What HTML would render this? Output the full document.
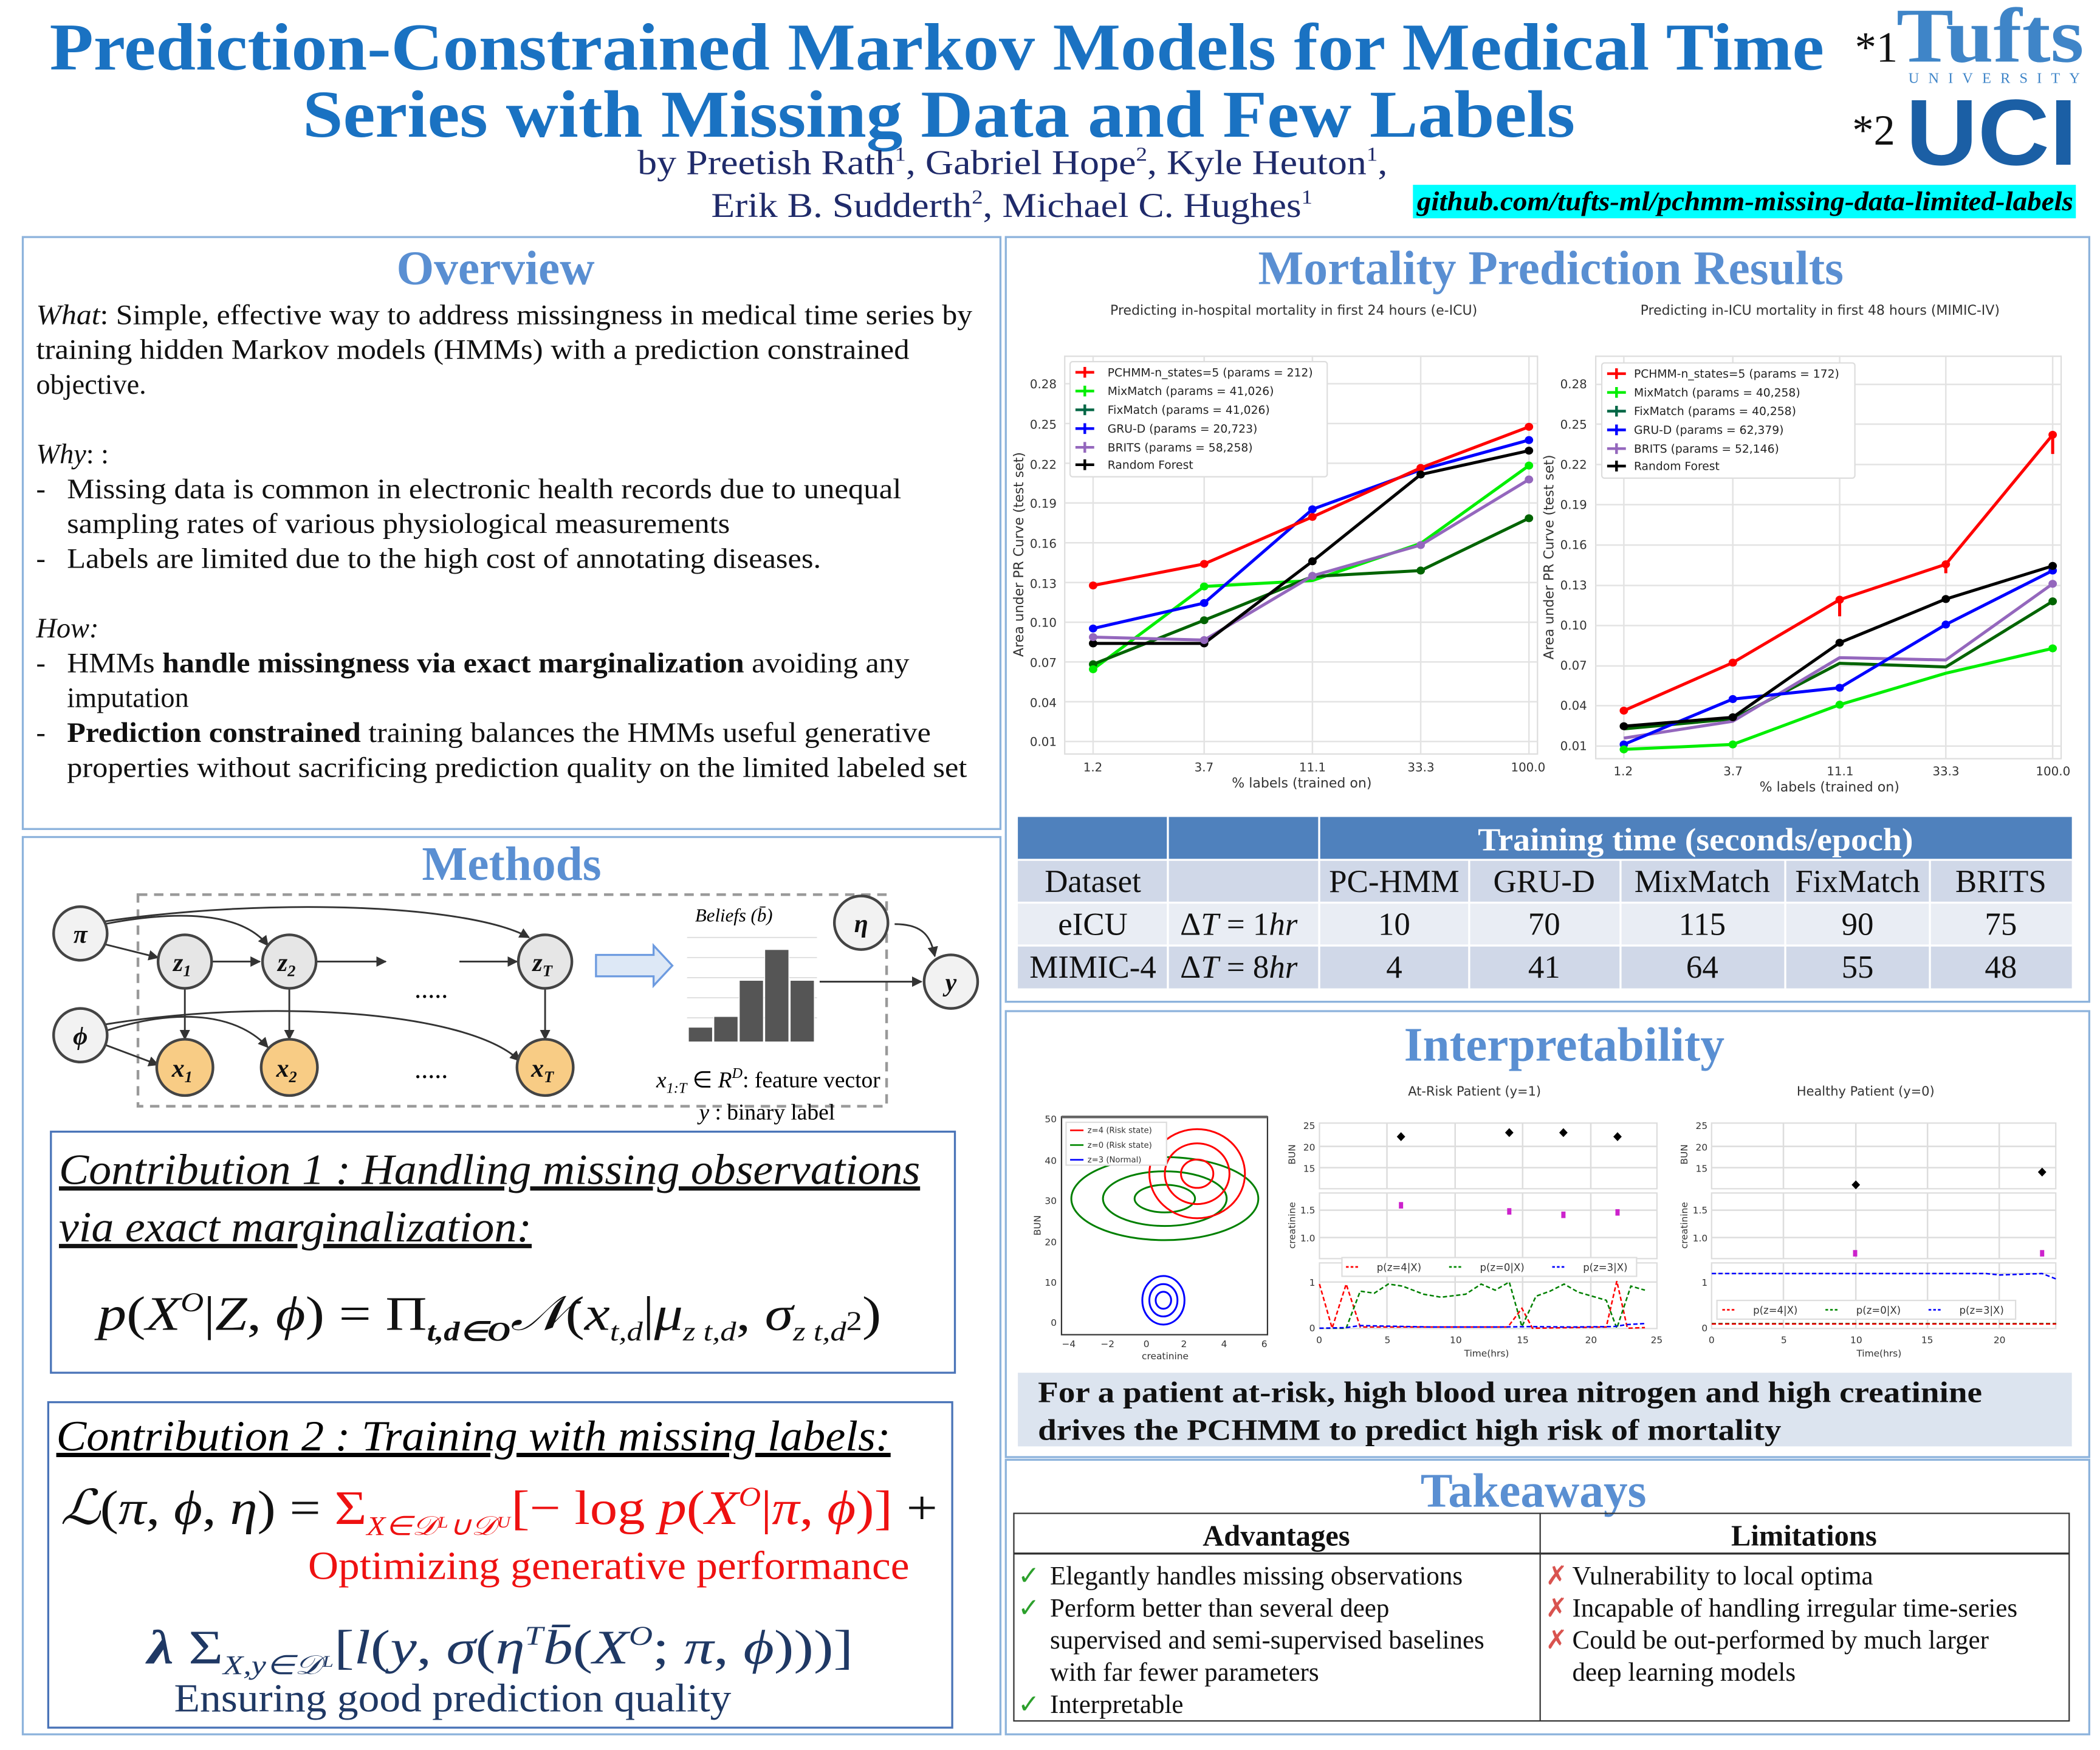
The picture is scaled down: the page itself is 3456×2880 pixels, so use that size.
<!DOCTYPE html>
<html><head><meta charset="utf-8"><style>
html,body{margin:0;padding:0;background:#fff;}
svg{display:block}
.serif{font-family:"Liberation Serif",serif}
.sans{font-family:"DejaVu Sans","Liberation Sans",sans-serif}
</style></head><body>
<svg xmlns="http://www.w3.org/2000/svg" width="3456" height="2880" viewBox="0 0 1568 1306.7">
<defs>
<marker id="ar" viewBox="0 0 10 10" refX="9" refY="5" markerWidth="6" markerHeight="6" orient="auto"><path d="M0,0 L10,5 L0,10 z" fill="#333"/></marker>
</defs>
<rect width="1568" height="1307" fill="#fff"/>
<!-- Header -->
<g class="serif" font-weight="bold" fill="#1a72c2" font-size="50">
<text x="37" y="52" textLength="1325" lengthAdjust="spacingAndGlyphs">Prediction-Constrained Markov Models for Medical Time</text>
<text x="226" y="102" textLength="950" lengthAdjust="spacingAndGlyphs">Series with Missing Data and Few Labels</text>
</g>
<g class="serif" fill="#1f2a6a" font-size="26">
<text x="476" y="130" textLength="560" lengthAdjust="spacingAndGlyphs">by Preetish Rath<tspan font-size="15" dy="-10">1</tspan><tspan dy="10">, Gabriel Hope</tspan><tspan font-size="15" dy="-10">2</tspan><tspan dy="10">, Kyle Heuton</tspan><tspan font-size="15" dy="-10">1</tspan><tspan dy="10">,</tspan></text>
<text x="531" y="162" textLength="449" lengthAdjust="spacingAndGlyphs">Erik B. Sudderth<tspan font-size="15" dy="-10">2</tspan><tspan dy="10">, Michael C. Hughes</tspan><tspan font-size="15" dy="-10">1</tspan></text>
</g>
<text x="1385" y="46" class="serif" font-size="32" fill="#111">*1</text>
<text x="1416" y="46" font-family="Liberation Serif,serif" font-weight="bold" font-size="58" fill="#3f85c8" textLength="140" lengthAdjust="spacingAndGlyphs">Tufts</text>
<text x="1425" y="62" class="serif" font-size="11" fill="#3f85c8" textLength="128" lengthAdjust="spacing">UNIVERSITY</text>
<text x="1383" y="108" class="serif" font-size="32" fill="#111">*2</text>
<text x="1423" y="123" font-family="Liberation Sans,sans-serif" font-weight="bold" font-size="70" fill="#1b5fa5" textLength="128" lengthAdjust="spacingAndGlyphs">UCI</text>
<rect x="1055" y="138" width="495" height="25" fill="#00ffff"/>
<text x="1058" y="157" class="serif" font-weight="bold" font-style="italic" font-size="20" fill="#000" textLength="490" lengthAdjust="spacingAndGlyphs">github.com/tufts-ml/pchmm-missing-data-limited-labels</text>

<!-- Panels -->
<g fill="none" stroke="#8db3dc" stroke-width="1.5">
<rect x="17" y="177" width="730" height="442"/>
<rect x="17" y="625" width="730" height="670"/>
<rect x="751" y="177" width="809" height="571"/>
<rect x="751" y="755" width="809" height="333"/>
<rect x="751" y="1090" width="809" height="205"/>
</g>
<g class="serif" font-weight="bold" fill="#5a8fd2" font-size="36" text-anchor="middle">
<text x="370" y="212">Overview</text>
<text x="382" y="657">Methods</text>
<text x="1158" y="212">Mortality Prediction Results</text>
<text x="1168" y="792">Interpretability</text>
<text x="1145" y="1125">Takeaways</text>
</g>

<!-- Overview text -->
<g class="serif" font-size="21" fill="#111">
<text x="27" y="242" textLength="699" lengthAdjust="spacingAndGlyphs"><tspan font-style="italic">What</tspan>: Simple, effective way to address missingness in medical time series by</text>
<text x="27" y="268" textLength="652" lengthAdjust="spacingAndGlyphs">training hidden Markov models (HMMs) with a prediction constrained</text>
<text x="27" y="294">objective.</text>
<text x="27" y="346"><tspan font-style="italic">Why</tspan>: :</text>
<text x="27" y="372">-</text><text x="50" y="372" textLength="623" lengthAdjust="spacingAndGlyphs">Missing data is common in electronic health records due to unequal</text>
<text x="50" y="398" textLength="495" lengthAdjust="spacingAndGlyphs">sampling rates of various physiological measurements</text>
<text x="27" y="424">-</text><text x="50" y="424" textLength="563" lengthAdjust="spacingAndGlyphs">Labels are limited due to the high cost of annotating diseases.</text>
<text x="27" y="476" font-style="italic">How:</text>
<text x="27" y="502">-</text><text x="50" y="502" textLength="629" lengthAdjust="spacingAndGlyphs">HMMs <tspan font-weight="bold">handle missingness via exact marginalization</tspan> avoiding any</text>
<text x="50" y="528">imputation</text>
<text x="27" y="554">-</text><text x="50" y="554" textLength="645" lengthAdjust="spacingAndGlyphs"><tspan font-weight="bold">Prediction constrained</tspan> training balances the HMMs useful generative</text>
<text x="50" y="580" textLength="672" lengthAdjust="spacingAndGlyphs">properties without sacrificing prediction quality on the limited labeled set</text>
</g>

<!-- Methods diagram -->
<rect x="103" y="668" width="559" height="158" fill="none" stroke="#999" stroke-width="2" stroke-dasharray="7,5"/>
<g stroke="#333" stroke-width="1.3" fill="none" marker-end="url(#ar)">
<path d="M78,690 C130,680 180,680 200,706"/>
<path d="M78,688 C200,670 350,675 395,700"/>
<path d="M78,705 L118,715"/>
<path d="M158,718 L194,718"/>
<path d="M236,718 L288,718"/>
<path d="M343,718 L386,718"/>
<path d="M138,738 L138,776"/>
<path d="M216,738 L216,776"/>
<path d="M407,738 L407,776"/>
<path d="M78,780 L118,795"/>
<path d="M78,770 C140,750 180,760 200,782"/>
<path d="M78,765 C200,745 350,755 388,792"/>
<path d="M668,690 C690,690 695,700 698,714"/>
<path d="M612,733 L688,733"/>
</g>
<g stroke="#444" stroke-width="2">
<circle cx="60" cy="697" r="20" fill="#f2f2f2"/>
<circle cx="60" cy="773" r="20" fill="#f2f2f2"/>
<circle cx="138" cy="718" r="20" fill="#e6e6e6"/>
<circle cx="216" cy="718" r="20" fill="#e6e6e6"/>
<circle cx="407" cy="718" r="20" fill="#e6e6e6"/>
<circle cx="138" cy="797" r="21" fill="#f8cc85"/>
<circle cx="216" cy="797" r="21" fill="#f8cc85"/>
<circle cx="407" cy="797" r="21" fill="#f8cc85"/>
<circle cx="643" cy="689" r="20" fill="#f2f2f2"/>
<circle cx="710" cy="733" r="20" fill="#f2f2f2"/>
</g>
<g class="serif" font-style="italic" font-weight="bold" font-size="19" text-anchor="middle" fill="#111">
<text x="60" y="704">π</text><text x="60" y="780">ϕ</text>
<text x="136" y="725">z<tspan font-size="12" dy="4">1</tspan></text>
<text x="214" y="725">z<tspan font-size="12" dy="4">2</tspan></text>
<text x="405" y="725">z<tspan font-size="12" dy="4">T</tspan></text>
<text x="136" y="804">x<tspan font-size="12" dy="4">1</tspan></text>
<text x="214" y="804">x<tspan font-size="12" dy="4">2</tspan></text>
<text x="405" y="804">x<tspan font-size="12" dy="4">T</tspan></text>
<text x="643" y="696">η</text><text x="710" y="740">y</text>
</g>
<text x="322" y="745" class="serif" font-size="20" text-anchor="middle">.....</text>
<text x="322" y="805" class="serif" font-size="20" text-anchor="middle">.....</text>
<path d="M445,713 L488,713 L488,706 L502,721 L488,736 L488,729 L445,729 z" fill="#dde8f6" stroke="#6d9be0" stroke-width="1.5"/>
<g stroke="#ddd" stroke-width="0.8"><line x1="513" y1="700" x2="610" y2="700"/><line x1="513" y1="715" x2="610" y2="715"/><line x1="513" y1="730" x2="610" y2="730"/><line x1="513" y1="745" x2="610" y2="745"/><line x1="513" y1="760" x2="610" y2="760"/></g>
<g fill="#555" stroke="#fff" stroke-width="0.6">
<rect x="514" y="767" width="18" height="11"/><rect x="533" y="759" width="18" height="19"/><rect x="552" y="732" width="18" height="46"/><rect x="571" y="709" width="18" height="69"/><rect x="590" y="732" width="18" height="46"/>
</g>
<text x="519" y="688" class="serif" font-style="italic" font-size="14">Beliefs (b̄)</text>
<text x="490" y="812" class="serif" font-size="17"><tspan font-style="italic">x</tspan><tspan font-size="11" dy="4" font-style="italic">1:T</tspan><tspan dy="-4"> ∈ </tspan><tspan font-style="italic">R</tspan><tspan font-size="11" dy="-7" font-style="italic">D</tspan><tspan dy="7">: feature vector</tspan></text>
<text x="522" y="836" class="serif" font-size="17"><tspan font-style="italic">y</tspan> : binary label</text>

<!-- Contribution 1 -->
<rect x="38" y="845" width="675" height="180" fill="none" stroke="#4a74b8" stroke-width="1.5"/>
<g class="serif" font-style="italic" font-size="32" fill="#111">
<text x="44" y="884" text-decoration="underline" textLength="643" lengthAdjust="spacingAndGlyphs">Contribution 1 : Handling missing observations</text>
<text x="44" y="927" text-decoration="underline" textLength="353" lengthAdjust="spacingAndGlyphs">via exact marginalization:</text>
</g>
<text x="73" y="993" class="serif" font-size="36" fill="#111" textLength="585" lengthAdjust="spacingAndGlyphs"><tspan font-style="italic">p</tspan>(<tspan font-style="italic">X</tspan><tspan font-size="20" dy="-14" font-style="italic">O</tspan><tspan dy="14">|</tspan><tspan font-style="italic">Z</tspan>, <tspan font-style="italic">ϕ</tspan>) = Π<tspan font-size="20" dy="8" font-weight="bold" font-style="italic">t,d∈O</tspan><tspan dy="-8" font-style="italic">𝒩</tspan>(<tspan font-style="italic">x</tspan><tspan font-size="20" dy="8" font-style="italic">t,d</tspan><tspan dy="-8">|</tspan><tspan font-style="italic">μ</tspan><tspan font-size="20" dy="8" font-style="italic">z t,d</tspan><tspan dy="-8">, </tspan><tspan font-style="italic">σ</tspan><tspan font-size="20" dy="8" font-style="italic">z t,d</tspan><tspan dy="-8" font-size="20">2</tspan><tspan>)</tspan></text>

<!-- Contribution 2 -->
<rect x="36" y="1047" width="675" height="243" fill="none" stroke="#4a74b8" stroke-width="1.5"/>
<text x="42" y="1083" class="serif" font-style="italic" font-size="32" text-decoration="underline" textLength="623" lengthAdjust="spacingAndGlyphs">Contribution 2 : Training with missing labels:</text>
<text x="45" y="1138" class="serif" font-size="36" fill="#111" textLength="655" lengthAdjust="spacingAndGlyphs"><tspan font-style="italic">ℒ</tspan>(<tspan font-style="italic">π</tspan>, <tspan font-style="italic">ϕ</tspan>, <tspan font-style="italic">η</tspan>) = <tspan fill="#ee1111">Σ<tspan font-size="20" dy="8" font-style="italic">X∈𝒟ᴸ∪𝒟ᵁ</tspan><tspan dy="-8">[− log </tspan><tspan font-style="italic">p</tspan>(<tspan font-style="italic">X</tspan><tspan font-size="20" dy="-14" font-style="italic">O</tspan><tspan dy="14">|</tspan><tspan font-style="italic">π</tspan>, <tspan font-style="italic">ϕ</tspan>)]</tspan> +</text>
<text x="230" y="1179" class="serif" font-size="30" fill="#ee1111" textLength="449" lengthAdjust="spacingAndGlyphs">Optimizing generative performance</text>
<text x="110" y="1242" class="serif" font-size="36" fill="#1f3864" textLength="527" lengthAdjust="spacingAndGlyphs"><tspan font-weight="bold" font-style="italic">λ</tspan> Σ<tspan font-size="20" dy="8" font-style="italic">X,y∈𝒟ᴸ</tspan><tspan dy="-8">[</tspan><tspan font-style="italic">l</tspan>(<tspan font-style="italic">y</tspan>, <tspan font-style="italic">σ</tspan>(<tspan font-style="italic">η</tspan><tspan font-size="20" dy="-14" font-style="italic">T</tspan><tspan dy="14" font-style="italic">b̄</tspan>(<tspan font-style="italic">X</tspan><tspan font-size="20" dy="-14" font-style="italic">O</tspan><tspan dy="14">; </tspan><tspan font-style="italic">π</tspan>, <tspan font-style="italic">ϕ</tspan>)))]</text>
<text x="130" y="1278" class="serif" font-size="30" fill="#1f3864" textLength="416" lengthAdjust="spacingAndGlyphs">Ensuring good prediction quality</text>

<!-- Mortality charts -->
<g class="sans" font-size="10" fill="#333" text-anchor="middle">
<text x="966" y="235">Predicting in-hospital mortality in first 24 hours (e-ICU)</text>
<text x="1359" y="235">Predicting in-ICU mortality in first 48 hours (MIMIC-IV)</text>
</g>
<rect x="795" y="266" width="353" height="297" fill="#fff" stroke="#ddd"/>
<rect x="1191.5" y="266" width="347.5" height="300.5" fill="#fff" stroke="#ddd"/>
<g transform="translate(753.2 217.8) scale(0.5249 0.2473)" fill="none">
<g stroke="#e3e3e3">
<path vector-effect="non-scaling-stroke" stroke-width="2.5" d="M80,278H752M80,398H752M80,518H752M80,638H752M80,758H752M80,878H752M80,998H752M80,1118H752M80,1238H752M80,1358H752M120,195V1395M278,195V1395M432,195V1395M586,195V1395M740,195V1395"/>
<path vector-effect="non-scaling-stroke" stroke-width="2.5" d="M835,280H1497M835,400H1497M835,522H1497M835,643H1497M835,765H1497M835,887H1497M835,1008H1497M835,1130H1497M835,1250H1497M835,1372H1497M875,195V1410M1030,195V1410M1182,195V1410M1333,195V1410M1485,195V1410"/>
</g>
<g stroke-width="5" stroke-linejoin="round">
<polyline vector-effect="non-scaling-stroke" stroke="#00ee00" points="120,1140 278,890 432,872 586,760 740,525"/>
<polyline vector-effect="non-scaling-stroke" stroke="#006400" points="120,1125 278,992 432,860 586,842 740,684"/>
<polyline vector-effect="non-scaling-stroke" stroke="#9467bd" points="120,1043 278,1052 432,858 586,765 740,567"/>
<polyline vector-effect="non-scaling-stroke" stroke="#000" points="120,1062 278,1062 432,814 586,552 740,480"/>
<polyline vector-effect="non-scaling-stroke" stroke="#0000ff" points="120,1017 278,940 432,657 586,538 740,448"/>
<polyline vector-effect="non-scaling-stroke" stroke="#ff0000" points="120,887 278,822 432,680 586,532 740,408"/>
<polyline vector-effect="non-scaling-stroke" stroke="#00ee00" points="875,1382 1030,1367 1182,1247 1333,1152 1485,1077"/>
<polyline vector-effect="non-scaling-stroke" stroke="#006400" points="875,1320 1030,1290 1182,1122 1333,1133 1485,935"/>
<polyline vector-effect="non-scaling-stroke" stroke="#9467bd" points="875,1348 1030,1297 1182,1105 1333,1112 1485,882"/>
<polyline vector-effect="non-scaling-stroke" stroke="#0000ff" points="875,1367 1030,1230 1182,1196 1333,1005 1485,842"/>
<polyline vector-effect="non-scaling-stroke" stroke="#000" points="875,1312 1030,1285 1182,1060 1333,928 1485,828"/>
<polyline vector-effect="non-scaling-stroke" stroke="#ff0000" points="875,1265 1030,1120 1182,930 1333,823 1485,432"/>
<path vector-effect="non-scaling-stroke" stroke="#ff0000" d="M1485,432V490M1182,930V980M1333,823V850"/>
</g>
<g stroke="none">
<g fill="#ff0000"><ellipse cx="120" cy="887" rx="6" ry="12"/><ellipse cx="278" cy="822" rx="6" ry="12"/><ellipse cx="432" cy="680" rx="6" ry="12"/><ellipse cx="586" cy="532" rx="6" ry="12"/><ellipse cx="740" cy="408" rx="6" ry="12"/><ellipse cx="875" cy="1265" rx="6" ry="12"/><ellipse cx="1030" cy="1120" rx="6" ry="12"/><ellipse cx="1182" cy="930" rx="6" ry="12"/><ellipse cx="1333" cy="823" rx="6" ry="12"/><ellipse cx="1485" cy="432" rx="6" ry="12"/></g>
<g fill="#0000ff"><ellipse cx="120" cy="1017" rx="6" ry="12"/><ellipse cx="278" cy="940" rx="6" ry="12"/><ellipse cx="432" cy="657" rx="6" ry="12"/><ellipse cx="740" cy="448" rx="6" ry="12"/><ellipse cx="875" cy="1367" rx="6" ry="12"/><ellipse cx="1030" cy="1230" rx="6" ry="12"/><ellipse cx="1182" cy="1196" rx="6" ry="12"/><ellipse cx="1333" cy="1005" rx="6" ry="12"/><ellipse cx="1485" cy="842" rx="6" ry="12"/></g>
<g fill="#000"><ellipse cx="120" cy="1062" rx="6" ry="12"/><ellipse cx="278" cy="1062" rx="6" ry="12"/><ellipse cx="432" cy="814" rx="6" ry="12"/><ellipse cx="586" cy="552" rx="6" ry="12"/><ellipse cx="740" cy="480" rx="6" ry="12"/><ellipse cx="875" cy="1312" rx="6" ry="12"/><ellipse cx="1030" cy="1285" rx="6" ry="12"/><ellipse cx="1182" cy="1060" rx="6" ry="12"/><ellipse cx="1333" cy="928" rx="6" ry="12"/><ellipse cx="1485" cy="828" rx="6" ry="12"/></g>
<g fill="#006400"><ellipse cx="120" cy="1125" rx="6" ry="12"/><ellipse cx="278" cy="992" rx="6" ry="12"/><ellipse cx="586" cy="842" rx="6" ry="12"/><ellipse cx="740" cy="684" rx="6" ry="12"/><ellipse cx="1485" cy="935" rx="6" ry="12"/></g>
<g fill="#9467bd"><ellipse cx="120" cy="1043" rx="6" ry="12"/><ellipse cx="278" cy="1052" rx="6" ry="12"/><ellipse cx="432" cy="858" rx="6" ry="12"/><ellipse cx="586" cy="765" rx="6" ry="12"/><ellipse cx="740" cy="567" rx="6" ry="12"/><ellipse cx="1485" cy="882" rx="6" ry="12"/></g>
<g fill="#00ee00"><ellipse cx="120" cy="1140" rx="6" ry="12"/><ellipse cx="278" cy="890" rx="6" ry="12"/><ellipse cx="740" cy="525" rx="6" ry="12"/><ellipse cx="875" cy="1382" rx="6" ry="12"/><ellipse cx="1030" cy="1367" rx="6" ry="12"/><ellipse cx="1182" cy="1247" rx="6" ry="12"/><ellipse cx="1485" cy="1077" rx="6" ry="12"/></g>
</g>
</g>
<!-- tick labels -->
<g class="sans" font-size="9" fill="#333" text-anchor="end">
<text x="789" y="290">0.28</text><text x="789" y="320">0.25</text><text x="789" y="350">0.22</text><text x="789" y="379">0.19</text><text x="789" y="409">0.16</text><text x="789" y="439">0.13</text><text x="789" y="468">0.10</text><text x="789" y="498">0.07</text><text x="789" y="528">0.04</text><text x="789" y="557">0.01</text>
<text x="1185" y="290">0.28</text><text x="1185" y="320">0.25</text><text x="1185" y="350">0.22</text><text x="1185" y="380">0.19</text><text x="1185" y="410">0.16</text><text x="1185" y="440">0.13</text><text x="1185" y="470">0.10</text><text x="1185" y="500">0.07</text><text x="1185" y="530">0.04</text><text x="1185" y="560">0.01</text>
</g>
<g class="sans" font-size="9" fill="#333" text-anchor="middle">
<text x="816" y="576">1.2</text><text x="899" y="576">3.7</text><text x="980" y="576">11.1</text><text x="1061" y="576">33.3</text><text x="1141" y="576">100.0</text>
<text x="1212" y="579">1.2</text><text x="1294" y="579">3.7</text><text x="1374" y="579">11.1</text><text x="1453" y="579">33.3</text><text x="1533" y="579">100.0</text>
<text x="972" y="588" font-size="10">% labels (trained on)</text>
<text x="1366" y="591" font-size="10">% labels (trained on)</text>
<text transform="translate(764 414) rotate(-90)" font-size="10">Area under PR Curve (test set)</text>
<text transform="translate(1160 416) rotate(-90)" font-size="10">Area under PR Curve (test set)</text>
</g>
<rect x="799" y="270" width="192" height="86" fill="#fff" stroke="#ddd" rx="2"/>
<rect x="1196" y="271" width="189" height="86" fill="#fff" stroke="#ddd" rx="2"/>
<g stroke-width="2">
<path d="M803,278h14M810,274v8" stroke="#f00"/><path d="M803,292h14M810,288v8" stroke="#0e0"/><path d="M803,306h14M810,302v8" stroke="#064"/><path d="M803,320h14M810,316v8" stroke="#00f"/><path d="M803,334h14M810,330v8" stroke="#9467bd"/><path d="M803,347h14M810,343v8" stroke="#000"/>
<path d="M1200,279h14M1207,275v8" stroke="#f00"/><path d="M1200,293h14M1207,289v8" stroke="#0e0"/><path d="M1200,307h14M1207,303v8" stroke="#064"/><path d="M1200,321h14M1207,317v8" stroke="#00f"/><path d="M1200,335h14M1207,331v8" stroke="#9467bd"/><path d="M1200,348h14M1207,344v8" stroke="#000"/>
</g>
<g class="sans" font-size="8.5" fill="#222">
<text x="827" y="281">PCHMM-n_states=5 (params = 212)</text><text x="827" y="295">MixMatch (params = 41,026)</text><text x="827" y="309">FixMatch (params = 41,026)</text><text x="827" y="323">GRU-D (params = 20,723)</text><text x="827" y="337">BRITS (params = 58,258)</text><text x="827" y="350">Random Forest</text>
<text x="1220" y="282">PCHMM-n_states=5 (params = 172)</text><text x="1220" y="296">MixMatch (params = 40,258)</text><text x="1220" y="310">FixMatch (params = 40,258)</text><text x="1220" y="324">GRU-D (params = 62,379)</text><text x="1220" y="338">BRITS (params = 52,146)</text><text x="1220" y="351">Random Forest</text>
</g>

<!-- Training time table -->
<rect x="760" y="610" width="787" height="32" fill="#4f81bd"/>
<rect x="760" y="642" width="787" height="32" fill="#d0d8e8"/>
<rect x="760" y="674" width="787" height="32" fill="#e9edf4"/>
<rect x="760" y="706" width="787" height="32" fill="#d0d8e8"/>
<g stroke="#fff" stroke-width="1.5">
<path d="M760,642H1547M760,674H1547M760,706H1547M872,610V738M985,610V738M1097,642V738M1210,642V738M1333,642V738M1441,642V738"/>
</g>
<g class="serif" font-size="24" fill="#111" text-anchor="middle">
<text x="1266" y="635" fill="#fff" font-weight="bold" textLength="325" lengthAdjust="spacingAndGlyphs">Training time (seconds/epoch)</text>
<text x="816" y="666">Dataset</text><text x="1041" y="666">PC-HMM</text><text x="1153" y="666">GRU-D</text><text x="1271" y="666">MixMatch</text><text x="1387" y="666">FixMatch</text><text x="1494" y="666">BRITS</text>
<text x="816" y="698">eICU</text><text x="925" y="698">Δ<tspan font-style="italic">T</tspan> = 1<tspan font-style="italic">hr</tspan></text><text x="1041" y="698">10</text><text x="1153" y="698">70</text><text x="1271" y="698">115</text><text x="1387" y="698">90</text><text x="1494" y="698">75</text>
<text x="816" y="730">MIMIC-4</text><text x="925" y="730">Δ<tspan font-style="italic">T</tspan> = 8<tspan font-style="italic">hr</tspan></text><text x="1041" y="730">4</text><text x="1153" y="730">41</text><text x="1271" y="730">64</text><text x="1387" y="730">55</text><text x="1494" y="730">48</text>
</g>

<!-- Interpretability -->
<g class="sans" font-size="9.5" fill="#333" text-anchor="middle">
<text x="1101" y="818">At-Risk Patient (y=1)</text>
<text x="1393" y="818">Healthy Patient (y=0)</text>
</g>
<rect x="792.6" y="834" width="153.8" height="162.6" fill="#fff" stroke="#333" stroke-width="1"/>
<line x1="792.6" y1="834" x2="946.4" y2="834" stroke="#666" stroke-width="2"/>
<rect x="985.2" y="838.6" width="252" height="49" fill="#fff" stroke="#ddd"/>
<rect x="985.2" y="890.8" width="252" height="49" fill="#fff" stroke="#ddd"/>
<rect x="985.2" y="943" width="252" height="49" fill="#fff" stroke="#ddd"/>
<rect x="1278" y="838.6" width="257" height="49" fill="#fff" stroke="#ddd"/>
<rect x="1278" y="890.8" width="257" height="49" fill="#fff" stroke="#ddd"/>
<rect x="1278" y="943" width="257" height="49" fill="#fff" stroke="#ddd"/>
<g transform="translate(753.2 807.6) scale(0.5249 0.1512)" fill="none">
<path vector-effect="non-scaling-stroke" stroke="#ddd" stroke-width="2.5" d="M442,320H922M442,425H922M538,205V530M635,205V530M731,205V530M828,205V530M442,635H922M442,770H922M538,550V875M635,550V875M731,550V875M828,550V875M442,990H922M538,895V1220M635,895V1220M731,895V1220M828,895V1220M1000,320H1490M1000,425H1490M1102,205V530M1205,205V530M1307,205V530M1409,205V530M1000,635H1490M1000,770H1490M1102,550V875M1205,550V875M1307,550V875M1409,550V875M1000,948H1490M1102,895V1220M1205,895V1220M1307,895V1220M1409,895V1220"/>
<g stroke-width="3">
<ellipse vector-effect="non-scaling-stroke" stroke="#0000ff" cx="220" cy="1080" rx="30" ry="120"/>
<ellipse vector-effect="non-scaling-stroke" stroke="#0000ff" cx="220" cy="1080" rx="20" ry="80"/>
<ellipse vector-effect="non-scaling-stroke" stroke="#0000ff" cx="220" cy="1080" rx="11" ry="42"/>
<ellipse vector-effect="non-scaling-stroke" stroke="#008000" cx="222" cy="578" rx="133" ry="205"/>
<ellipse vector-effect="non-scaling-stroke" stroke="#008000" cx="222" cy="578" rx="88" ry="135"/>
<ellipse vector-effect="non-scaling-stroke" stroke="#008000" cx="222" cy="578" rx="43" ry="68"/>
<ellipse vector-effect="non-scaling-stroke" stroke="#ff0000" cx="268" cy="455" rx="68" ry="220"/>
<ellipse vector-effect="non-scaling-stroke" stroke="#ff0000" cx="268" cy="455" rx="46" ry="150"/>
<ellipse vector-effect="non-scaling-stroke" stroke="#ff0000" cx="268" cy="455" rx="23" ry="70"/>
</g>
<g stroke-width="2.5" stroke-dasharray="7,4">
<polyline vector-effect="non-scaling-stroke" stroke="#ff0000" points="442,1000 460,1218 480,1000 500,1212 600,1212 710,1212 730,1120 745,1218 850,1212 865,985 880,1218 905,1215"/>
<polyline vector-effect="non-scaling-stroke" stroke="#008000" points="442,1218 480,1218 500,1035 520,1045 540,1000 560,1010 590,1050 615,1065 650,1050 672,1000 692,1030 712,990 730,1210 750,1060 770,1035 790,1000 810,1040 840,1070 850,1080 865,1218 885,1010 905,1030"/>
<polyline vector-effect="non-scaling-stroke" stroke="#0000ff" points="442,1218 480,1215 500,1205 540,1208 600,1212 700,1212 740,1210 800,1212 860,1210 880,1200 905,1195"/>
<polyline vector-effect="non-scaling-stroke" stroke="#0000ff" points="1000,948 1390,948 1410,955 1470,948 1490,975"/>
<polyline vector-effect="non-scaling-stroke" stroke="#008000" points="1000,1195 1490,1195"/>
<polyline vector-effect="non-scaling-stroke" stroke="#ff0000" points="1000,1197 1490,1197"/>
</g>
<g fill="#000"><path d="M558,250l6,22l-6,22l-6,-22z"/><path d="M712,230l6,22l-6,22l-6,-22z"/><path d="M789,230l6,22l-6,22l-6,-22z"/><path d="M866,250l6,22l-6,22l-6,-22z"/><path d="M1205,488l6,22l-6,22l-6,-22z"/><path d="M1470,425l6,22l-6,22l-6,-22z"/></g>
<g fill="#cc22cc"><rect x="555" y="595" width="6" height="32"/><rect x="709" y="625" width="6" height="32"/><rect x="786" y="642" width="6" height="32"/><rect x="863" y="630" width="6" height="32"/><rect x="1201" y="832" width="6" height="32"/><rect x="1467" y="832" width="6" height="32"/></g>
</g>
<rect x="796" y="838" width="75" height="32" fill="#fff" stroke="#ddd"/>
<g stroke-width="1.2"><path d="M799,844h10" stroke="#f00"/><path d="M799,855h10" stroke="#080"/><path d="M799,866h10" stroke="#00f"/></g>
<g class="sans" font-size="6" fill="#333"><text x="812" y="846">z=4 (Risk state)</text><text x="812" y="857">z=0 (Risk state)</text><text x="812" y="868">z=3 (Normal)</text></g>
<rect x="1002" y="939" width="220" height="14" fill="#fff" stroke="#ddd"/>
<rect x="1282" y="971" width="223" height="14" fill="#fff" stroke="#ddd"/>
<g stroke-width="1.2" stroke-dasharray="2,1.5"><path d="M1005,946h10" stroke="#f00"/><path d="M1082,946h10" stroke="#080"/><path d="M1159,946h10" stroke="#00f"/><path d="M1286,978h10" stroke="#f00"/><path d="M1363,978h10" stroke="#080"/><path d="M1440,978h10" stroke="#00f"/></g>
<g class="sans" font-size="7.5" fill="#333"><text x="1028" y="949">p(z=4|X)</text><text x="1105" y="949">p(z=0|X)</text><text x="1182" y="949">p(z=3|X)</text><text x="1309" y="981">p(z=4|X)</text><text x="1386" y="981">p(z=0|X)</text><text x="1463" y="981">p(z=3|X)</text></g>
<g class="sans" font-size="7" fill="#333" text-anchor="end">
<text x="789" y="838">50</text><text x="789" y="869">40</text><text x="789" y="899">30</text><text x="789" y="930">20</text><text x="789" y="960">10</text><text x="789" y="990">0</text>
<text x="982" y="843">25</text><text x="982" y="859">20</text><text x="982" y="875">15</text><text x="982" y="906">1.5</text><text x="982" y="927">1.0</text><text x="982" y="960">1</text><text x="982" y="994">0</text>
<text x="1275" y="843">25</text><text x="1275" y="859">20</text><text x="1275" y="875">15</text><text x="1275" y="906">1.5</text><text x="1275" y="927">1.0</text><text x="1275" y="960">1</text><text x="1275" y="994">0</text>
</g>
<g class="sans" font-size="7" fill="#333" text-anchor="middle">
<text x="798" y="1006">−4</text><text x="827" y="1006">−2</text><text x="856" y="1006">0</text><text x="884" y="1006">2</text><text x="914" y="1006">4</text><text x="944" y="1006">6</text>
<text x="870" y="1015">creatinine</text>
<text x="985" y="1003">0</text><text x="1036" y="1003">5</text><text x="1087" y="1003">10</text><text x="1137" y="1003">15</text><text x="1188" y="1003">20</text><text x="1237" y="1003">25</text><text x="1110" y="1013">Time(hrs)</text>
<text x="1278" y="1003">0</text><text x="1332" y="1003">5</text><text x="1386" y="1003">10</text><text x="1439" y="1003">15</text><text x="1493" y="1003">20</text><text x="1403" y="1013">Time(hrs)</text>
<text transform="translate(777 915) rotate(-90)">BUN</text>
<text transform="translate(967 862) rotate(-90)">BUN</text><text transform="translate(967 915) rotate(-90)">creatinine</text>
<text transform="translate(1260 862) rotate(-90)">BUN</text><text transform="translate(1260 915) rotate(-90)">creatinine</text>
</g>
<rect x="760" y="1025" width="787" height="55" fill="#dce4ef"/>
<g class="serif" font-weight="bold" font-size="22" fill="#111">
<text x="775" y="1047" textLength="705" lengthAdjust="spacingAndGlyphs">For a patient at-risk, high blood urea nitrogen and high creatinine</text>
<text x="775" y="1075" textLength="555" lengthAdjust="spacingAndGlyphs">drives the PCHMM to predict high risk of mortality</text>
</g>

<!-- Takeaways table -->
<rect x="757" y="1130" width="788" height="155" fill="none" stroke="#333" stroke-width="1"/>
<line x1="757" y1="1160" x2="1545" y2="1160" stroke="#333" stroke-width="1.5"/>
<line x1="1150" y1="1130" x2="1150" y2="1285" stroke="#333" stroke-width="1"/>
<g class="serif" font-size="22" font-weight="bold" fill="#111" text-anchor="middle">
<text x="953" y="1154">Advantages</text><text x="1347" y="1154">Limitations</text>
</g>
<g class="serif" font-size="19.5" fill="#111">
<text x="760" y="1183" fill="#2ca02c">✓</text><text x="784" y="1183">Elegantly handles missing observations</text>
<text x="760" y="1207" fill="#2ca02c">✓</text><text x="784" y="1207">Perform better than several deep</text>
<text x="784" y="1231">supervised and semi-supervised baselines</text>
<text x="784" y="1255">with far fewer parameters</text>
<text x="760" y="1279" fill="#2ca02c">✓</text><text x="784" y="1279">Interpretable</text>
<text x="1154" y="1183" fill="#d9534f">✗</text><text x="1174" y="1183">Vulnerability to local optima</text>
<text x="1154" y="1207" fill="#d9534f">✗</text><text x="1174" y="1207">Incapable of handling irregular time-series</text>
<text x="1154" y="1231" fill="#d9534f">✗</text><text x="1174" y="1231">Could be out-performed by much larger</text>
<text x="1174" y="1255">deep learning models</text>
</g>
</svg>
</body></html>
